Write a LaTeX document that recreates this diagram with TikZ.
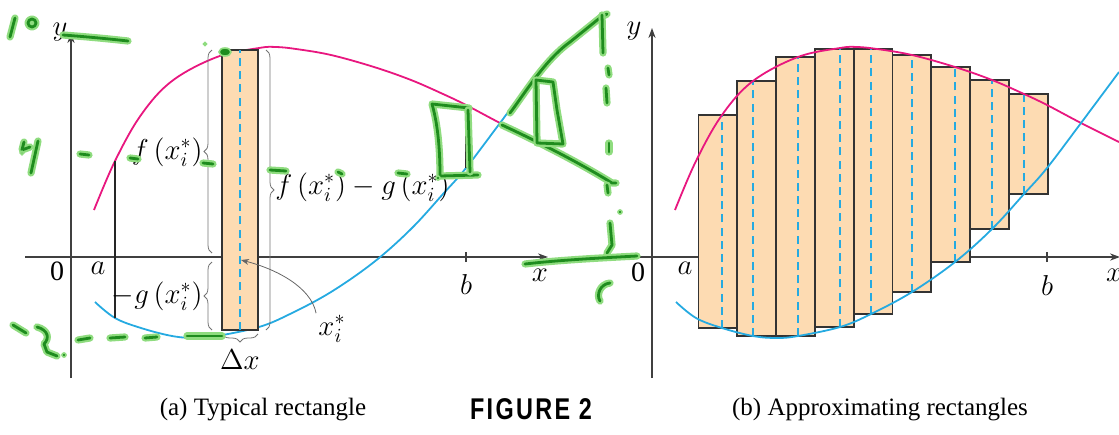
\documentclass[tikz,border=0pt]{standalone}
\usepackage{fontspec}
\setmainfont{Liberation Serif}
\newfontfamily\figfont{Liberation Sans}[LetterSpace=10]
\usetikzlibrary{arrows.meta,decorations.pathreplacing}

\definecolor{fpink}{HTML}{E8177F}
\definecolor{gblue}{HTML}{25AAE1}
\definecolor{peach}{HTML}{FDDBB2}
\definecolor{inkgreen}{HTML}{1E8C1E}
\definecolor{inkglow}{HTML}{8FDC7F}

% the two curves, in panel units (origin at 0, y up)
\newcommand\fpath{plot[smooth,tension=0.6] coordinates {(23,47) (44,96) (70,142) (101,176) (146,200) (188,209) (205,210) (225,208) (260,202) (303,190) (340,177) (372,163) (395,152) (429,134) (467,115)}}
\newcommand\gpath{plot[smooth,tension=0.6] coordinates {(24,-45) (44,-61) (70,-71) (101,-79) (125,-81) (146,-79) (188,-70) (219,-57) (260,-35) (303,-5) (340,28) (372,63) (395,89) (429,134) (467,185)}}

\begin{document}
\begin{tikzpicture}[x=0.5pt,y=-0.5pt,
 axis/.style={draw=black!75,line width=0.6pt},
 axisarrow/.style={-{Stealth[length=5pt,width=3.6pt]}},
 fcurve/.style={draw=fpink,line width=0.9pt},
 gcurve/.style={draw=gblue,line width=0.9pt},
 rectbox/.style={fill=peach,draw=black!80,line width=0.9pt},
 sample/.style={draw=gblue,line width=0.6pt,dash pattern=on 4pt off 2.6pt},
 edge/.style={draw=black!85,line width=0.7pt},
 brace/.style={draw=black!55,line width=0.4pt,decorate,decoration={brace,amplitude=4pt}},
 lbl/.style={inner sep=1pt,font=\fontsize{14}{16}\selectfont},
 mlbl/.style={inner sep=1pt,font=\fontsize{14}{17}\selectfont},
 caption/.style={font=\fontsize{12.5}{14}\selectfont},
 ink/.style={draw=inkgreen,line width=1.4pt,line cap=round,line join=round,
   preaction={draw=inkglow,line width=3.6pt,line cap=round,line join=round}},
 inkdot/.style={fill=inkgreen,draw=inkglow,line width=0.8pt}]
\useasboundingbox (0,0) rectangle (1119,434);

% (a) typical rectangle
\begin{scope}[shift={(71,257)},yscale=-1]
\draw[axis,axisarrow] (-46,0) -- (477,0);
\draw[axis,axisarrow] (0,-121) -- (0,224);
\node[lbl] (ya) at (-11,225) {$y$};
\node[lbl] (xa) at (469,-18) {$x$};
\node[lbl] (oa) at (-14,-14) {0};
\node[lbl] (aa) at (27,-11) {$a$};
\node[lbl] (ba) at (395,-27) {$b$};
\draw[axis] (395,-5) -- (395,5);
\draw[fcurve] \fpath;
\draw[gcurve] \gpath;
\draw[edge] (44,-61) -- (44,96);
\draw[edge] (395,89) -- (395,152);
\draw[rectbox] (151,-73) rectangle (187,207);
\draw[sample] (169,-73) -- (169,207);
\coordinate (xi) at (170,-3);
% braces
\draw[brace] (141,4) -- (141,207);
\draw[brace] (141,-73) -- (141,-5);
\draw[brace] (195,207) -- (195,-73);
\draw[brace] (187,-77) -- (151,-77);
\node[mlbl,anchor=east] (fa) at (134,105) {$f\,(x_i^*)$};
\node[mlbl,anchor=east] (ga) at (134,-39) {$-g\,(x_i^*)$};
\node[mlbl,anchor=west] (fga) at (202,70) {$f\,(x_i^*)-g\,(x_i^*)$};
\node[mlbl] (dx) at (169,-103) {$\Delta x$};
\node[mlbl] (xs) at (261,-72) {$x_i^*$};
\draw[draw=black!60,line width=0.4pt,-{Stealth[length=4pt,width=3pt]}] (xs.north west) .. controls (240,-30) and (205,-12) .. (xi);
\end{scope}

% (b) approximating rectangles
\begin{scope}[shift={(652,257)},yscale=-1]
\draw[axis,axisarrow] (-32,0) -- (468,0);
\draw[axis,axisarrow] (0,-121) -- (0,229);
\node[lbl] (yb) at (-18,226) {$y$};
\node[lbl] (xb) at (462,-18) {$x$};
\node[lbl] (ob) at (-14,-15) {0};
\node[lbl] (ab) at (33,-11) {$a$};
\node[lbl] (bb) at (395,-28) {$b$};
\draw[axis] (395,-5) -- (395,5);
\foreach \s/\t/\b [count=\i] in {70/142/-71,101/176/-79,146/200/-79,188/208/-70,219/208/-57,260/202/-35,303/190/-5,340/177/28,372/163/63}{
  \draw[rectbox] ({46.5+(\i-1)*38.8},\b) rectangle ++(38.8,{\t-\b});
  \draw[sample] (\s,\b) -- (\s,\t);
}
\draw[fcurve] \fpath;
\draw[gcurve] \gpath;
\end{scope}

\node[caption] (capa) at (263,410) {(a) Typical rectangle};
\node (fig) at (531,409) {\scalebox{0.78}[1]{\figfont\bfseries\fontsize{15}{17}\selectfont FIGURE 2}};
\node[caption] (capb) at (880,410) {(b) Approximating rectangles};

% green pen marks
\draw[ink] (10,37) -- (15,18);
\draw[ink] (32,23) circle (4);
\draw[ink] (63,35) .. controls (90,37) and (110,39) .. (128,41);
\draw[ink] (24,142) -- (22,150) -- (30,147);
\draw[ink] (38,141) -- (31,173);
\fill[inkdot] (22,153) circle (1.8);
\draw[ink] (80,154) -- (89,155);
\draw[ink] (130,158) -- (138,159);
\draw[ink] (203,163) -- (213,164);
\draw[ink] (270,170) -- (286,171);
\draw[ink] (338,172) -- (342,174);
\draw[ink] (398,173) -- (407,174);
\fill[inkdot] (205,44) circle (1.5);
\filldraw[inkdot] (225,52) ellipse (6 and 4);
\draw[ink] (13,325) -- (26,333);
\draw[ink] (37,327) .. controls (48,330) and (50,338) .. (44,344) -- (47,352) -- (57,356);
\fill[inkdot] (64,355) circle (2);
\draw[ink] (78,340) -- (90,338);
\draw[ink] (110,338) -- (125,337);
\draw[ink] (145,338) -- (157,337);
\draw[ink] (187,336) -- (222,336);
\draw[ink] (469,108) -- (432,104) .. controls (438,125) and (440,150) .. (440,176) -- (478,175);
\draw[ink] (468,110) -- (470,172);
\fill[inkdot] (438,178) circle (2);
\draw[ink] (510,113) .. controls (525,93) and (545,60) .. (570,42) -- (601,17) -- (607,14);
\draw[ink] (502,125) .. controls (530,138) and (575,160) .. (612,183) -- (616,183);
\draw[ink] (536,80) -- (553,82) -- (557,110) -- (563,144) -- (537,143) -- cycle;
\draw[ink] (602,15) -- (603,53);
\draw[ink] (608,68) -- (609,75);
\draw[ink] (606,88) -- (607,103);
\draw[ink] (609,143) -- (609,152);
\draw[ink] (607,185) -- (608,193);
\draw[ink] (610,223) -- (612,245) -- (607,253);
\fill[inkdot] (620,212) circle (2);
\draw[ink] (525,264) .. controls (560,260) and (600,258) .. (637,256);
\draw[ink] (610,283) .. controls (600,284) and (596,295) .. (600,301);
\end{tikzpicture}
\end{document}
